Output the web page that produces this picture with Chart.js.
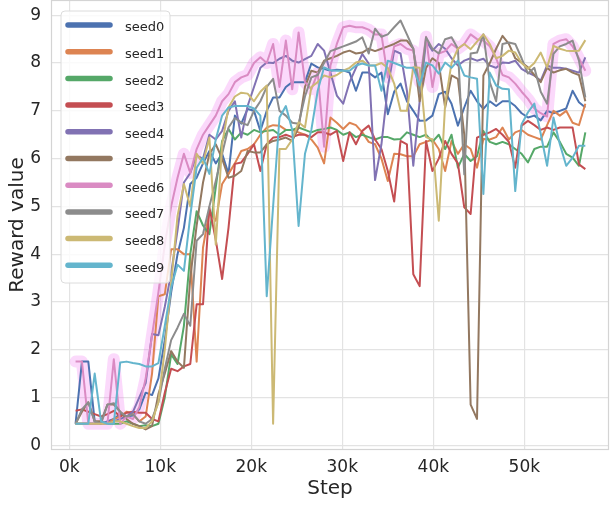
<!DOCTYPE html>
<html><head><meta charset="utf-8">
<script src="https://cdn.jsdelivr.net/npm/chart.js@4/dist/chart.umd.min.js"></script>
<style>html,body{margin:0;padding:0;background:#fff}canvas{display:block}</style>
</head><body>
<canvas id="c" width="610" height="506"></canvas>
<script>
const steps = [700,1400,2100,2800,3500,4200,4900,5600,6300,7000,7700,8400,9100,9800,10500,11200,11900,12600,13300,14000,14700,15400,16100,16800,17500,18200,18900,19600,20300,21000,21700,22400,23100,23800,24500,25200,25900,26600,27300,28000,28700,29400,30100,30800,31500,32200,32900,33600,34300,35000,35700,36400,37100,37800,38500,39200,39900,40600,41300,42000,42700,43400,44100,44800,45500,46200,46900,47600,48300,49000,49700,50400,51100,51800,52500,53200,53900,54600,55300,56000,56700];

const seed0 = [0.45,1.75,1.75,0.5,0.45,0.5,0.55,0.65,0.6,0.62,0.75,1.1,1.05,
  1.4,2.2,3.2,4.0,4.55,5.47,5.6,5.9,6.16,5.9,6.1,5.68,6.9,6.73,7.04,
  7.0,6.58,7.0,7.28,7.28,7.5,7.6,7.6,7.6,7.99,7.91,7.88,7.84,
  7.86,7.85,7.8,7.42,7.8,7.8,7.7,7.8,6.93,7.4,7.57,7.2,7.0,
  6.79,6.8,6.9,7.35,7.4,7.15,6.69,7.07,7.42,7.2,7.04,7.2,7.1,
  7.2,7.2,7.1,6.95,6.86,6.9,6.8,7.0,6.95,7.0,7.05,7.42,7.18,7.07];
const seed1 = [0.45,0.45,0.45,0.45,0.5,0.45,0.55,0.6,0.7,0.65,0.5,0.6,1.5,
  3.12,3.16,4.1,4.1,4.0,4.0,1.75,4.14,4.9,4.7,5.47,5.68,5.9,6.16,
  6.2,6.3,6.5,6.65,6.7,6.69,6.6,6.6,6.55,6.5,6.4,6.23,5.9,6.86,
  6.75,6.62,6.75,6.7,6.55,6.35,6.3,6.0,5.53,6.1,6.09,6.05,6.05,
  6.3,6.35,6.4,6.2,5.74,6.37,6.1,6.3,6.2,5.81,6.41,6.4,6.45,
  6.65,6.4,6.55,6.6,6.5,6.45,6.4,6.7,7.0,6.9,7.0,6.75,6.7,7.15];
const seed2 = [0.45,0.45,0.45,0.45,0.45,0.45,0.45,0.45,0.5,0.45,0.4,0.42,0.4,
  0.45,1.0,1.9,1.7,2.5,4.0,4.9,4.6,4.42,5.4,6.37,6.62,6.4,6.55,6.5,
  6.6,6.55,6.58,6.6,6.5,6.6,6.6,6.65,6.6,6.55,6.6,6.62,6.65,
  6.6,6.5,6.55,6.45,6.5,6.45,6.4,6.45,6.45,6.4,6.41,6.55,6.5,
  6.45,6.5,6.35,6.5,6.2,6.5,5.81,6.1,5.95,6.05,6.58,6.35,6.3,
  6.35,6.3,6.2,6.1,5.92,6.2,6.25,6.25,6.55,6.35,6.1,6.02,5.85,6.55];
const seed3 = [0.72,0.75,0.7,0.65,0.6,0.65,0.72,0.6,0.68,0.7,0.68,0.68,0.55,
  0.5,1.1,1.6,1.55,1.65,1.7,2.95,2.95,4.98,4.3,3.48,4.55,5.89,5.92,6.1,6.3,
  5.74,6.3,6.44,6.45,6.5,6.45,6.5,6.5,6.45,6.55,6.55,6.5,6.58,
  5.95,6.55,6.3,6.58,6.69,6.4,6.2,5.74,5.1,6.37,6.3,3.58,3.33,
  6.37,5.74,6.0,6.37,6.1,5.9,4.98,4.84,6.44,6.5,6.55,6.62,6.5,
  6.35,5.81,6.69,6.79,6.7,6.6,6.65,6.6,6.65,6.65,6.65,5.88,5.78];
const seed4 = [0.45,0.45,0.45,0.45,0.5,0.45,0.5,0.55,0.6,0.7,1.0,1.3,2.33,
  2.3,2.9,3.6,4.5,5.5,5.7,6.06,6.0,6.5,6.4,6.58,7.0,7.2,6.44,7.1,
  7.5,7.9,8.01,8.0,8.09,8.15,8.05,8.01,8.08,8.15,8.4,8.26,7.8,
  7.32,7.15,7.6,7.9,8.19,7.99,5.55,6.3,7.49,8.26,8.2,7.42,5.85,
  7.2,8.47,8.26,8.4,8.3,8.1,7.95,8.05,8.1,8.05,8.09,7.95,7.9,
  8.01,8.0,8.05,7.88,7.8,7.74,7.63,7.95,7.9,7.9,7.88,7.84,7.8,8.12];
const seed5 = [0.45,0.7,0.9,0.5,0.5,0.85,0.85,0.7,0.55,0.45,0.4,0.33,0.4,
  1.07,1.5,1.97,1.75,1.62,3.5,4.6,5.5,6.1,6.3,6.0,5.6,5.64,5.74,6.16,
  6.13,6.13,6.3,6.37,6.4,6.44,6.37,6.65,7.5,7.84,7.8,8.05,8.1,
  8.15,8.22,8.26,8.2,8.22,8.3,8.25,8.3,8.35,8.4,8.47,8.47,8.3,
  7.2,7.9,8.1,8.0,7.07,7.74,7.67,6.5,0.85,0.55,7.74,8.0,8.3,
  8.57,8.4,8.1,8.01,7.91,7.75,7.6,7.9,7.8,7.85,7.88,7.8,7.75,7.2];
const seed6 = [1.75,1.75,0.45,0.45,0.45,0.45,1.8,0.45,0.6,0.55,0.8,1.4,2.3,
  3.2,4.2,5.0,5.6,6.1,5.7,6.2,6.5,6.7,6.9,7.2,7.35,7.6,7.7,7.75,
  8.0,8.12,8.0,8.4,7.5,8.47,7.45,8.64,7.6,7.45,7.8,6.25,7.95,
  8.4,8.75,8.78,8.75,8.75,8.7,8.6,8.6,7.7,8.35,8.4,8.3,8.26,
  7.6,8.55,7.5,8.2,8.25,8.4,8.3,8.4,8.6,8.5,8.47,8.35,8.1,
  7.75,7.7,7.57,7.4,7.25,7.05,6.95,6.88,8.4,8.47,8.5,8.35,8.1,7.84];
const seed7 = [0.45,0.75,0.9,0.5,0.45,0.85,0.88,0.7,0.6,0.65,0.5,0.45,0.55,
  0.9,1.6,2.2,2.46,2.75,2.5,4.28,4.42,5.0,5.53,6.1,6.65,6.85,6.75,6.7,
  7.0,7.2,7.5,7.67,7.0,6.9,6.75,6.73,7.3,7.7,7.75,8.0,8.25,
  8.3,8.35,8.4,8.45,8.54,8.2,8.72,8.55,8.6,8.75,8.89,8.6,8.3,
  7.4,8.54,8.3,8.2,8.5,8.54,8.3,5.67,8.2,8.22,8.6,7.6,7.2,
  8.4,8.43,8.4,8.1,7.78,7.9,7.4,7.15,8.19,8.35,8.4,8.47,8.05,7.28];
const seed8 = [0.45,0.45,0.45,0.45,0.45,0.45,0.5,0.5,0.45,0.4,0.36,0.36,0.5,
  0.9,2.0,3.4,4.8,5.47,5.0,6.1,5.9,6.44,4.2,6.3,7.07,7.3,7.38,7.36,
  7.2,7.4,7.53,0.45,6.2,6.2,6.4,6.76,6.65,7.5,7.6,7.74,7.7,
  7.75,7.84,7.9,8.01,8.05,7.95,7.95,8.0,7.9,7.57,7.0,7.0,7.91,
  7.9,6.45,6.4,4.7,7.15,8.0,8.3,8.4,8.29,8.45,8.6,8.4,8.1,
  8.15,8.26,8.22,8.0,7.88,8.0,8.22,7.91,8.36,8.3,8.26,8.25,8.26,8.48];
const seed9 = [0.45,0.45,0.45,1.5,0.5,0.45,0.45,1.73,1.75,1.72,1.7,1.65,1.65,
  1.72,2.5,3.3,3.78,3.65,4.8,5.81,6.02,5.68,6.4,6.9,7.07,7.1,7.1,7.1,
  7.05,6.9,3.12,5.0,6.86,7.1,6.6,4.59,6.1,6.6,7.42,7.91,7.85,
  7.84,7.84,7.84,7.95,7.99,7.95,7.95,7.42,8.05,8.0,7.95,7.9,7.9,
  7.53,8.01,7.95,7.78,8.01,7.9,8.05,7.74,7.7,7.67,5.26,7.8,7.53,
  7.46,7.45,5.32,6.72,6.97,7.15,6.52,5.85,6.86,6.3,5.85,6.02,6.27,6.27];

const seriesNames = ['seed0','seed1','seed2','seed3','seed4','seed5','seed6','seed7','seed8','seed9'];
const seriesColors = ['#4c72b0','#dd8452','#55a868','#c44e52','#8172b3','#937860','#da8bc3','#8c8c8c','#ccb974','#64b5cd'];
const xTicks = [0,10000,20000,30000,40000,50000];
const yTicks = [0,1,2,3,4,5,6,7,8,9];
const xLabel = 'Step';
const yLabel = 'Reward value';

const allSeries = [seed0,seed1,seed2,seed3,seed4,seed5,seed6,seed7,seed8,seed9];
const toPts = vals => vals.map((v,i)=>({x:steps[i], y:v}));
const datasets = allSeries.map((vals,k)=>({
  label: seriesNames[k], data: toPts(vals), borderColor: seriesColors[k],
  borderWidth: 2, pointRadius: 0, tension: 0, fill: false, order: 9-k,
  borderJoinStyle: 'round'
}));
datasets.push({label:'_glow', data: toPts(seed6), borderColor:'rgba(240,110,240,0.26)',
  borderWidth: 12, pointRadius: 0, tension: 0, fill:false, order: 100,
  borderJoinStyle:'round', borderCapStyle:'round'});

const FONT = "'DejaVu Sans', sans-serif";
const TXT = '#262626';

const frame = {
  id:'frame',
  afterDraw(chart){
    const {ctx, chartArea:a} = chart;
    ctx.save();
    ctx.strokeStyle = '#d4d4d4'; ctx.lineWidth = 1.2;
    ctx.strokeRect(a.left+0.5, a.top+0.5, a.right-a.left-1, a.bottom-a.top-1);
    ctx.restore();
  },
  afterDatasetsDraw(chart){
    const {ctx, chartArea:a} = chart;
    ctx.save();
    const x0 = a.left + 10, y0 = a.top + 11, w = 109, h = 272, r = 4;
    ctx.beginPath();
    ctx.moveTo(x0+r,y0); ctx.lineTo(x0+w-r,y0); ctx.quadraticCurveTo(x0+w,y0,x0+w,y0+r);
    ctx.lineTo(x0+w,y0+h-r); ctx.quadraticCurveTo(x0+w,y0+h,x0+w-r,y0+h);
    ctx.lineTo(x0+r,y0+h); ctx.quadraticCurveTo(x0,y0+h,x0,y0+h-r);
    ctx.lineTo(x0,y0+r); ctx.quadraticCurveTo(x0,y0,x0+r,y0); ctx.closePath();
    ctx.fillStyle = 'rgba(255,255,255,0.8)'; ctx.fill();
    ctx.strokeStyle = '#dcdcdc'; ctx.lineWidth = 1; ctx.stroke();
    ctx.font = '13px ' + FONT; ctx.textBaseline = 'middle'; ctx.fillStyle = TXT;
    seriesNames.forEach((name,k)=>{
      const y = y0 + 14 + k*26.7;
      ctx.beginPath(); ctx.moveTo(x0+7, y); ctx.lineTo(x0+49, y);
      ctx.strokeStyle = seriesColors[k]; ctx.lineWidth = 5.5; ctx.lineCap = 'round'; ctx.stroke();
      ctx.fillStyle = TXT; ctx.fillText(name, x0+64, y+3);
    });
    ctx.restore();
  }
};

new Chart(document.getElementById('c'), {
  type: 'line',
  data: { datasets },
  options: {
    responsive: false, animation: false, devicePixelRatio: 1,
    layout: { padding: { top: 0, right: 1, left: 0, bottom: 0 } },
    plugins: { legend: { display: false }, tooltip: { enabled: false } },
    scales: {
      x: {
        type: 'linear', min: -2000, max: 59300,
        afterBuildTicks: s => { s.ticks = xTicks.map(v=>({value:v})); },
        afterFit: s => { s.height = 56; s.paddingLeft = 0; s.paddingRight = 0; },
        grid: { color: '#e3e3e3', lineWidth: 1.2, drawTicks: false },
        border: { display: false },
        ticks: { padding: 7, color: TXT, font: { family: FONT, size: 17 }, callback: v => (v/1000) + 'k', maxRotation: 0 },
        title: { display: true, text: xLabel, color: TXT, font: { family: FONT, size: 20 }, padding: { top: 0, bottom: 5 } }
      },
      y: {
        type: 'linear', min: -0.1, max: 9.32,
        afterBuildTicks: s => { s.ticks = yTicks.map(v=>({value:v})); },
        afterFit: s => { s.width = 51; s.paddingTop = 0; s.paddingBottom = 0; },
        grid: { color: '#e3e3e3', lineWidth: 1.2, drawTicks: false },
        border: { display: false },
        ticks: { padding: 10, color: TXT, font: { family: FONT, size: 17 } },
        title: { display: true, text: yLabel, color: TXT, font: { family: FONT, size: 20 }, padding: { top: 6, bottom: 0 } }
      }
    }
  },
  plugins: [frame]
});
</script>
</body></html>
